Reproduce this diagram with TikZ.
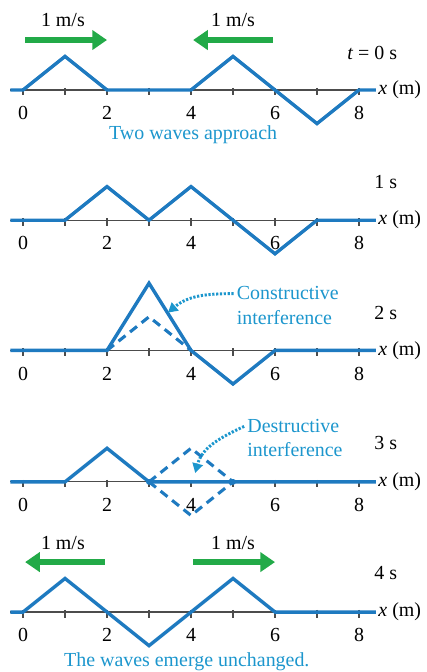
\documentclass[tikz,border=0pt]{standalone}
\usepackage{fontspec}
\setmainfont{Liberation Serif}
\usetikzlibrary{positioning,arrows.meta}
\definecolor{waveblue}{RGB}{30,122,192}
\definecolor{noteblue}{RGB}{28,150,205}
\definecolor{velgreen}{RGB}{34,170,72}
\tikzset{
  wave/.style={waveblue,line width=2.3pt,line join=miter},
  ghost/.style={waveblue,line width=2.1pt,dash pattern=on 6pt off 4pt},
  axisline/.style={black!70,line width=0.8pt},
  vel/.style={velgreen,line width=3.6pt,-{Triangle[length=10pt,width=13pt]}},
  lbl/.style={font=\fontsize{13.5}{16.5}\selectfont,inner sep=1pt},
  note/.style={lbl,noteblue,align=left},
  pointer/.style={noteblue,line width=2pt,dash pattern=on 1.5pt off 1.1pt,-{Triangle[length=6.5pt,width=7pt]}},
}

\begin{document}
\begin{tikzpicture}
\useasboundingbox (-0.548,2.143) rectangle (9.595,-13.857);

% axes of the five snapshots
\foreach \p/\yy in {0/0,1/-3.1,2/-6.2,3/-9.33,4/-12.43} {
  \begin{scope}[yshift=\yy cm]
    \draw[axisline] (-0.3,0) -- (8.4,0);
    \foreach \i in {0,...,8} \draw[axisline] (\i,0.05) -- (\i,-0.13);
    \foreach \i in {0,2,4,6,8} \node[lbl] at (\i,-0.55) {\i};
    \node[lbl,anchor=west] (xm\p) at (8.42,0) {\textit{x} (m)};
  \end{scope}
}

% t = 0 s
\begin{scope}
  \draw[wave] (-0.3,0) -- (0,0) -- (1,0.8) -- (2,0) -- (4,0) -- (5,0.8) -- (6,0) -- (7,-0.8) -- (8,0) -- (8.4,0);
  \node[lbl] (v0a) at (0.95,1.67) {1 m/s};
  \node[lbl] (v0b) at (5.0,1.67) {1 m/s};
  \coordinate (a0s) at (0.05,1.19);
  \coordinate (a0e) at (2.0,1.19);
  \coordinate (b0s) at (5.95,1.19);
  \coordinate (b0e) at (4.05,1.19);
  \draw[vel] (a0s) -- (a0e);
  \draw[vel] (b0s) -- (b0e);
  \node[lbl,anchor=east] (t0) at (8.95,0.88) {\textit{t} = 0 s};
  \node[note] (cap0) at (4.05,-1.07) {Two waves approach};
\end{scope}

% t = 1 s
\begin{scope}[yshift=-3.1cm]
  \draw[wave] (-0.3,0) -- (1,0) -- (2,0.8) -- (3,0) -- (4,0.8) -- (5,0) -- (6,-0.8) -- (7,0) -- (8.4,0);
  \node[lbl,anchor=east] (t1) at (8.95,0.9) {1 s};
\end{scope}

% t = 2 s
\begin{scope}[yshift=-6.2cm]
  \draw[ghost] (2,0) -- (3,0.8) -- (4,0);
  \draw[wave] (-0.3,0) -- (2,0) -- (3,1.6) -- (4,0) -- (5,-0.8) -- (6,0) -- (8.4,0);
  \node[lbl,anchor=east] (t2) at (8.95,0.88) {2 s};
  \node[note,anchor=west] (con) at (5.05,1.07) {Constructive\\interference};
  \coordinate (conTip) at (3.45,0.9);
  \draw[pointer] ([xshift=-1pt,yshift=8pt]con.west) to[out=180,in=40] (conTip);
\end{scope}

% t = 3 s
\begin{scope}[yshift=-9.33cm]
  \draw[ghost] (3,0) -- (4,0.8) -- (5,0);
  \draw[ghost] (3,0) -- (4,-0.8) -- (5,0);
  \draw[wave] (-0.3,0) -- (1,0) -- (2,0.8) -- (3,0) -- (8.4,0);
  \fill[waveblue] (3,0) circle (2pt) (5,0) circle (2pt);
  \node[lbl,anchor=east] (t3) at (8.95,0.93) {3 s};
  \node[note,anchor=west] (des) at (5.3,1.04) {Destructive\\interference};
  \coordinate (desTip) at (4.1,0.21);
  \draw[pointer] ([xshift=-1pt,yshift=8pt]des.west) to[out=205,in=75] (desTip);
\end{scope}

% t = 4 s
\begin{scope}[yshift=-12.43cm]
  \draw[wave] (-0.3,0) -- (0,0) -- (1,0.8) -- (2,0) -- (3,-0.8) -- (4,0) -- (5,0.8) -- (6,0) -- (8.4,0);
  \node[lbl] (v4a) at (0.95,1.64) {1 m/s};
  \node[lbl] (v4b) at (5.0,1.64) {1 m/s};
  \coordinate (a4s) at (1.95,1.19);
  \coordinate (a4e) at (0.05,1.19);
  \coordinate (b4s) at (4.05,1.19);
  \coordinate (b4e) at (6.0,1.19);
  \draw[vel] (a4s) -- (a4e);
  \draw[vel] (b4s) -- (b4e);
  \node[lbl,anchor=east] (t4) at (8.95,0.93) {4 s};
  \node[note] (cap4) at (3.9,-1.19) {The waves emerge unchanged.};
\end{scope}
\end{tikzpicture}
\end{document}
